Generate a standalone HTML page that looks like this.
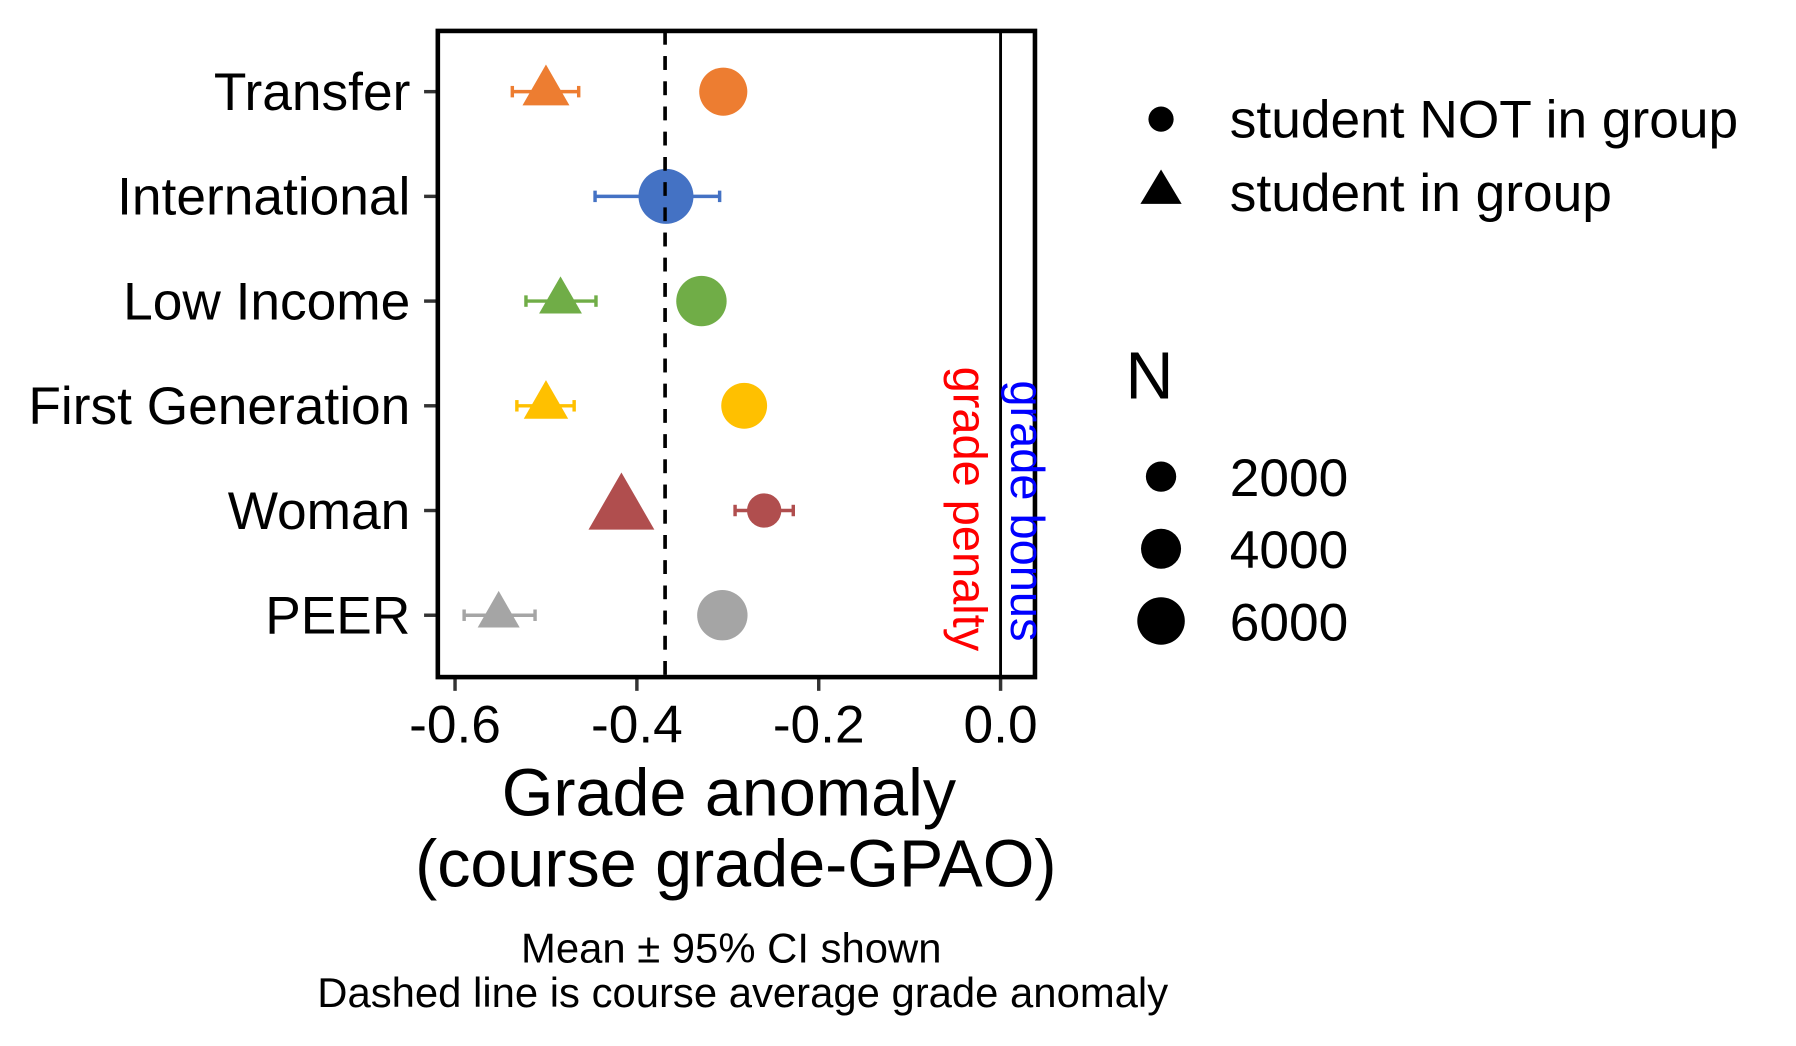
<!DOCTYPE html>
<html><head><meta charset="utf-8"><style>
html,body{margin:0;padding:0;background:#fff;}
svg{display:block;font-family:"Liberation Sans",Arial,sans-serif;}
</style></head><body>
<svg id="chart" width="1796" height="1046" viewBox="0 0 1567 913" preserveAspectRatio="none" xmlns="http://www.w3.org/2000/svg">
<g id="marks"></g>
<g id="frame"></g>
</svg>
<script>
const categories = ["Transfer","International","Low Income","First Generation","Woman","PEER"];
const colors = ["#ED7D31","#4472C4","#70AD47","#FFC000","#B04E4E","#A5A5A5"];
const notMean = [-0.305,-0.368,-0.329,-0.282,-0.260,-0.306];
const notLo   = [null,-0.446,null,null,-0.292,null];
const notHi   = [null,-0.309,null,null,-0.228,null];
const notN    = [3970,5460,4440,3530,1700,4440];
const inMean  = [-0.500,null,-0.484,-0.500,-0.417,-0.552];
const inLo    = [-0.537,null,-0.522,-0.532,null,-0.590];
const inHi    = [-0.464,null,-0.445,-0.469,null,-0.512];
const inN     = [2650,null,2100,2300,6000,2000];
const courseAvg = -0.369;
const xTicks = [-0.6,-0.4,-0.2,0.0];
const xTickLabels = ["-0.6","-0.4","-0.2","0.0"];
const sizeBreaks = [2000,4000,6000];

const NS="http://www.w3.org/2000/svg";
const P={l:382,r:903,t:27,b:591};
const x=v=>873+v*793.3;
const y=i=>80+i*91.4;
const rad=n=>3.6+0.276*Math.sqrt(n);
const marks=document.getElementById('marks');
const frame=document.getElementById('frame');
function mk(tag,attrs,parent,text){const e=document.createElementNS(NS,tag);for(const k in attrs)e.setAttribute(k,attrs[k]);if(text!=null)e.textContent=text;(parent||marks).appendChild(e);return e;}
function tri(cx,cy,r){const w=r*1.15;return `${cx},${cy-r*1.33} ${cx-w},${cy+r*0.67} ${cx+w},${cy+r*0.67}`;}
function errbar(lo,hi,cy,c){
  const g=mk('g',{});
  
  
  mk('line',{x1:x(lo),x2:x(hi),y1:cy,y2:cy,stroke:c,'stroke-width':3},g);
  mk('line',{x1:x(lo),x2:x(lo),y1:cy-5,y2:cy+5,stroke:c,'stroke-width':3},g);
  mk('line',{x1:x(hi),x2:x(hi),y1:cy-5,y2:cy+5,stroke:c,'stroke-width':3},g);
}
const dl=mk('line',{x1:x(courseAvg),x2:x(courseAvg),y1:P.t,y2:P.b,stroke:'#000','stroke-width':3,'stroke-dasharray':'12,10'});


const zl=mk('line',{x1:x(0),x2:x(0),y1:P.t,y2:P.b,stroke:'#000','stroke-width':2.5});


categories.forEach((c,i)=>{
  const cy=y(i);
  if(inMean[i]!=null){
    if(inLo[i]!=null) errbar(inLo[i],inHi[i],cy,colors[i]);
    const t=mk('polygon',{points:tri(x(inMean[i]),cy,rad(inN[i])),fill:colors[i]});
    
    
  }
  if(notLo[i]!=null) errbar(notLo[i],notHi[i],cy,colors[i]);
  const ci=mk('circle',{cx:x(notMean[i]),cy:cy,r:rad(notN[i]),fill:colors[i]});
  
  
  const lb=mk('text',{x:358,y:cy+16,'text-anchor':'end','font-size':46.5,fill:'#000'},frame,c);
  
  
  mk('line',{x1:370,x2:382,y1:cy,y2:cy,stroke:'#333','stroke-width':3},frame);
});
const dl2=mk('line',{x1:x(courseAvg),x2:x(courseAvg),y1:P.t,y2:P.b,stroke:'#000','stroke-width':3,'stroke-dasharray':'12,10'});


xTicks.forEach((v,i)=>{
  mk('line',{x1:x(v),x2:x(v),y1:P.b,y2:P.b+12,stroke:'#333','stroke-width':3},frame);
  const t=mk('text',{x:x(v),y:648,'text-anchor':'middle','font-size':46.5},frame,xTickLabels[i]);
  
  
});
const rect=mk('rect',{x:P.l,y:P.t,width:P.r-P.l,height:P.b-P.t,fill:'none',stroke:'#000','stroke-width':4},frame);


const pen=mk('text',{transform:'translate(832,320) rotate(90)','font-size':41,fill:'#f00'},frame,'grade penalty');


const bon=mk('text',{transform:'translate(882,332) rotate(90)','font-size':41,fill:'#00f'},frame,'grade bonus');


const t1=mk('text',{x:636,y:712,'text-anchor':'middle','font-size':58},frame,'Grade anomaly');


const t2=mk('text',{x:642,y:774,'text-anchor':'middle','font-size':58},frame,'(course grade-GPAO)');


const c1=mk('text',{x:638,y:840,'text-anchor':'middle','font-size':36.5},frame,'Mean ± 95% CI shown');


const c2=mk('text',{x:648,y:879,'text-anchor':'middle','font-size':36.5},frame,'Dashed line is course average grade anomaly');


mk('circle',{cx:1013,cy:104,r:11},frame);
const l1=mk('text',{x:1073,y:120,'font-size':46.5},frame,'student NOT in group');


mk('polygon',{points:'1013,148 995,178 1031,178'},frame);
const l2=mk('text',{x:1073,y:184,'font-size':46.5},frame,'student in group');


const nt=mk('text',{x:982,y:348,'font-size':58},frame,'N');


sizeBreaks.forEach((n,i)=>{
  const cy=416+i*63;
  mk('circle',{cx:1013,cy:cy,r:rad(n)*0.83},frame);
  const t=mk('text',{x:1073,y:cy+17,'font-size':46.5},frame,String(n));
  
  
});
</script>
</body></html>
